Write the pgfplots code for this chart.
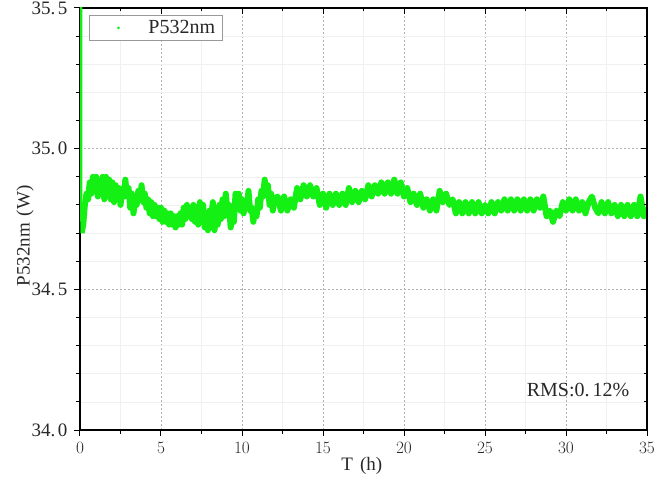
\documentclass[border=0pt]{standalone}
\usepackage{pgfplots}
\pgfplotsset{compat=1.18}
\usepackage{fontspec}
\setmainfont{Liberation Serif}
\definecolor{lgreen}{RGB}{20,240,20}
\definecolor{txt}{RGB}{40,40,40}
\begin{document}
\begin{tikzpicture}
\useasboundingbox (-80pt,-63pt) rectangle (576pt,430pt);
\begin{axis}[
  at={(0,0)}, anchor=south west,
  scale only axis, width=567pt, height=422pt,
  xmin=0, xmax=35, ymin=34, ymax=35.5,
  xtick={0,5,...,35}, minor x tick num=1,
  ytick={34,34.5,35,35.5}, minor y tick num=4,
  yticklabels={34.\kern2.5pt0,34.\kern2.5pt5,35.\kern2.5pt0,35.\kern2.5pt5},
  xtick pos=bottom, ytick pos=left, tick align=outside,
  major tick length=6pt, minor tick length=3.5pt,
  every tick/.style={black, line width=1pt},
  axis line style={line width=1.1pt},
  grid=both,
  major grid style={gray!60, dash pattern=on 2pt off 2pt, line width=0.6pt},
  minor grid style={gray!12, line width=0.5pt},
  tick label style={font=\fontsize{19}{22}\selectfont, text=txt},
  xticklabel style={yshift=-3pt},
  yticklabel style={xshift=-3pt},
  xlabel={T\kern7pt(h)}, ylabel={P532nm\kern7pt(W)},
  label style={font=\fontsize{19}{22}\selectfont, text=txt},
  xlabel style={at={(axis description cs:0.497,0)}, anchor=center, yshift=-36pt},
  ylabel style={at={(axis description cs:-0.097,0.46)}, anchor=center},
  legend style={at={(axis description cs:0.016,0.983)}, anchor=north west,
    draw=gray!80, line width=0.8pt, font=\fontsize{20}{23}\selectfont, text=txt,
    inner xsep=5pt, inner ysep=3pt},
  legend image code/.code={\path[draw=none] (0,0) -- (52pt,0); \fill[lgreen, draw=none] (24pt,0) circle (1.5pt);},
  clip=true,
]
\addplot[lgreen, line width=6pt, line join=round] coordinates {
(0.1,34.70)(0.2,34.73)(0.3,34.80)(0.4,34.84)(0.5,34.82)(0.6,34.88)(0.7,34.84)(0.8,34.90)(0.9,34.85)(1.0,34.90)
(1.1,34.83)(1.2,34.88)(1.3,34.84)(1.4,34.90)(1.5,34.82)(1.6,34.90)(1.7,34.84)(1.8,34.89)(1.9,34.82)(2.0,34.88)
(2.1,34.81)(2.2,34.87)(2.3,34.83)(2.4,34.86)(2.5,34.80)(2.6,34.85)(2.7,34.83)(2.8,34.89)(2.9,34.83)(3.0,34.86)
(3.1,34.79)(3.2,34.84)(3.3,34.77)(3.4,34.82)(3.5,34.80)(3.6,34.85)(3.7,34.82)(3.8,34.87)(3.9,34.81)(4.0,34.84)
(4.1,34.79)(4.2,34.82)(4.3,34.77)(4.4,34.81)(4.5,34.76)(4.6,34.80)(4.7,34.76)(4.8,34.79)(4.9,34.75)(5.0,34.79)
(5.1,34.74)(5.2,34.78)(5.3,34.74)(5.4,34.77)(5.5,34.73)(5.6,34.77)(5.7,34.73)(5.8,34.76)(5.9,34.72)(6.0,34.76)
(6.1,34.73)(6.2,34.77)(6.3,34.73)(6.4,34.79)(6.5,34.75)(6.6,34.80)(6.7,34.76)(6.8,34.79)(6.9,34.75)(7.0,34.80)
(7.1,34.74)(7.2,34.78)(7.3,34.73)(7.4,34.81)(7.5,34.76)(7.6,34.80)(7.7,34.72)(7.8,34.76)(7.9,34.71)(8.0,34.78)
(8.1,34.75)(8.2,34.81)(8.3,34.71)(8.4,34.76)(8.5,34.73)(8.6,34.80)(8.7,34.75)(8.8,34.82)(8.9,34.76)(9.0,34.84)
(9.1,34.78)(9.2,34.80)(9.3,34.72)(9.4,34.76)(9.5,34.74)(9.6,34.84)(9.7,34.79)(9.8,34.84)(9.9,34.78)(10.0,34.82)
(10.1,34.77)(10.2,34.81)(10.3,34.79)(10.4,34.85)(10.5,34.78)(10.6,34.79)(10.7,34.74)(10.8,34.78)(10.9,34.76)(11.0,34.82)
(11.1,34.79)(11.2,34.85)(11.3,34.83)(11.4,34.89)(11.5,34.84)(11.6,34.87)(11.7,34.80)(11.8,34.84)(11.9,34.78)(12.0,34.82)
(12.2,34.83)(12.4,34.78)(12.6,34.83)(12.8,34.78)(13.0,34.82)(13.2,34.79)(13.4,34.86)(13.6,34.82)(13.8,34.87)(14.0,34.83)
(14.2,34.87)(14.4,34.83)(14.6,34.86)(14.8,34.80)(15.0,34.84)(15.2,34.79)(15.4,34.84)(15.6,34.80)(15.8,34.84)(16.0,34.80)
(16.2,34.84)(16.4,34.80)(16.6,34.86)(16.8,34.81)(17.0,34.85)(17.2,34.81)(17.4,34.85)(17.6,34.82)(17.8,34.87)(18.0,34.83)
(18.2,34.87)(18.4,34.84)(18.6,34.88)(18.8,34.84)(19.0,34.88)(19.2,34.84)(19.4,34.89)(19.6,34.84)(19.8,34.88)(20.0,34.83)
(20.2,34.86)(20.4,34.81)(20.6,34.84)(20.8,34.80)(21.0,34.84)(21.2,34.79)(21.4,34.82)(21.6,34.78)(21.8,34.82)(22.0,34.78)
(22.2,34.85)(22.4,34.81)(22.6,34.84)(22.8,34.80)(23.0,34.82)(23.2,34.77)(23.4,34.81)(23.6,34.77)(23.8,34.81)(24.0,34.77)
(24.2,34.81)(24.4,34.77)(24.6,34.81)(24.8,34.77)(25.0,34.80)(25.2,34.77)(25.4,34.81)(25.6,34.77)(25.8,34.81)(26.0,34.78)
(26.2,34.82)(26.4,34.78)(26.6,34.82)(26.8,34.78)(27.0,34.82)(27.2,34.78)(27.4,34.82)(27.6,34.78)(27.8,34.82)(28.0,34.78)
(28.2,34.82)(28.4,34.79)(28.6,34.83)(28.8,34.76)(29.0,34.78)(29.2,34.74)(29.4,34.78)(29.6,34.76)(29.8,34.81)(30.0,34.78)
(30.2,34.82)(30.4,34.78)(30.6,34.82)(30.8,34.78)(31.0,34.81)(31.2,34.77)(31.4,34.81)(31.6,34.83)(31.8,34.79)(32.0,34.77)
(32.2,34.81)(32.4,34.77)(32.6,34.81)(32.8,34.77)(33.0,34.80)(33.2,34.76)(33.4,34.80)(33.6,34.76)(33.8,34.80)(34.0,34.76)
(34.2,34.80)(34.4,34.76)(34.6,34.83)(34.8,34.76)(35.0,34.79)
};
\addlegendentry{P532nm}
\node[anchor=east, font=\fontsize{20}{23}\selectfont, text=txt] at (axis description cs:0.975,0.095) {RMS:0.\kern3pt12\%};
\end{axis}
\begin{axis}[
  at={(0,0)}, anchor=south west,
  scale only axis, width=567pt, height=422pt,
  xmin=0, xmax=35, ymin=34, ymax=35.5,
  xtick={0,5,...,35}, minor x tick num=1,
  ytick={34,34.5,35,35.5}, minor y tick num=4,
  xtick pos=top, ytick pos=right, tick align=inside,
  major tick length=6pt, minor tick length=3.5pt,
  every tick/.style={black, line width=1pt},
  axis line style={line width=1.1pt},
  xticklabels={}, yticklabels={},
]
\addplot[lgreen, line width=2.4pt] coordinates {(0.075,35.6)(0.075,34.80)(0.1,34.70)};
\end{axis}
\end{tikzpicture}
\end{document}
